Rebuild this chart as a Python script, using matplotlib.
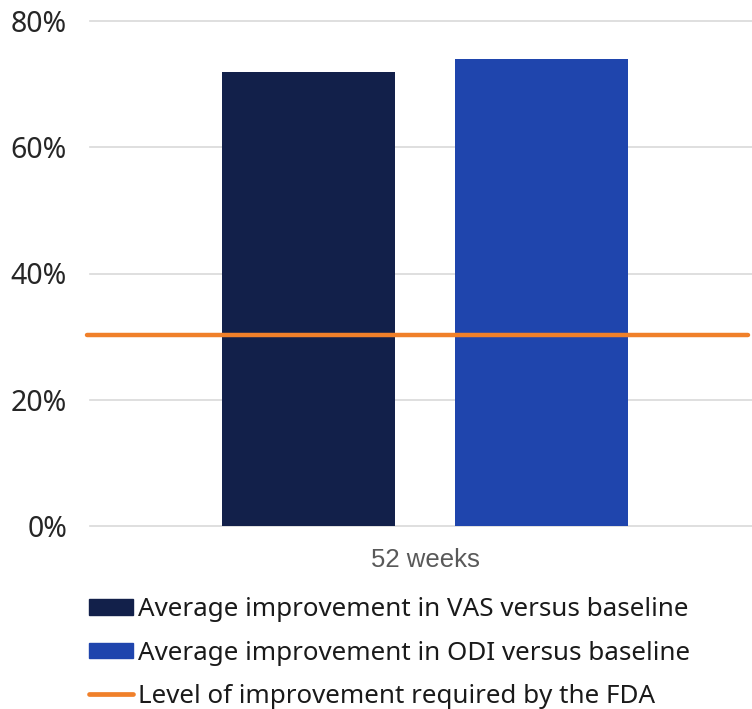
import matplotlib
matplotlib.use("Agg")
import matplotlib.pyplot as plt
from matplotlib.patches import Patch
from matplotlib.lines import Line2D

# data
categories = ["52 weeks"]
vas = [72]
odi = [74]
fda_level = 30.3
yticks = [0, 20, 40, 60, 80]
labels = ["Average improvement in VAS versus baseline",
          "Average improvement in ODI versus baseline",
          "Level of improvement required by the FDA"]

c_vas = "#12204a"
c_odi = "#1f45ad"
c_fda = "#f0802a"

plt.rcParams["font.family"] = ["Noto Sans", "DejaVu Sans"]

fig = plt.figure(figsize=(7.52, 7.09), dpi=100)
ax = fig.add_axes([90 / 752, 1 - 526 / 709, 670 / 752, 505 / 709])

w = 0.258
off = 0.174
ax.bar(-off, vas[0], width=w, color=c_vas, zorder=3)
ax.bar(off, odi[0], width=w, color=c_odi, zorder=3)
ax.axhline(fda_level, xmin=-0.005, xmax=0.982, color=c_fda, lw=3.2,
           solid_capstyle="round", zorder=4, clip_on=False)

ax.set_xlim(-0.5, 0.5)
ax.set_ylim(0, 80)
ax.set_yticks(yticks)
ax.set_yticklabels([f"{t}%" for t in yticks], fontsize=20.5, color="#262626")
ax.set_xticks([0])
ax.set_xticklabels(categories, fontsize=18.5, color="#595959",
                   family=["Liberation Sans", "DejaVu Sans"])
ax.tick_params(axis="y", length=0, pad=16.5)
ax.tick_params(axis="x", length=0, pad=16)
for t in yticks:
    ax.axhline(t, color="#d9d9d9", lw=1.2, zorder=0, clip_on=False)
for s in ax.spines.values():
    s.set_visible(False)

handles = [Patch(color=c_vas), Patch(color=c_odi),
           Line2D([0], [0], color=c_fda, lw=3.4, solid_capstyle="round")]
fig.legend(handles, labels, loc="upper left", bbox_to_anchor=(66 / 752, 1 - 574 / 709),
           frameon=False, fontsize=18.7, handlelength=1.67, handleheight=0.55,
           handletextpad=0.2, labelspacing=0.7, labelcolor="#1a1a1a")

fig.savefig("out.png", dpi=100)
